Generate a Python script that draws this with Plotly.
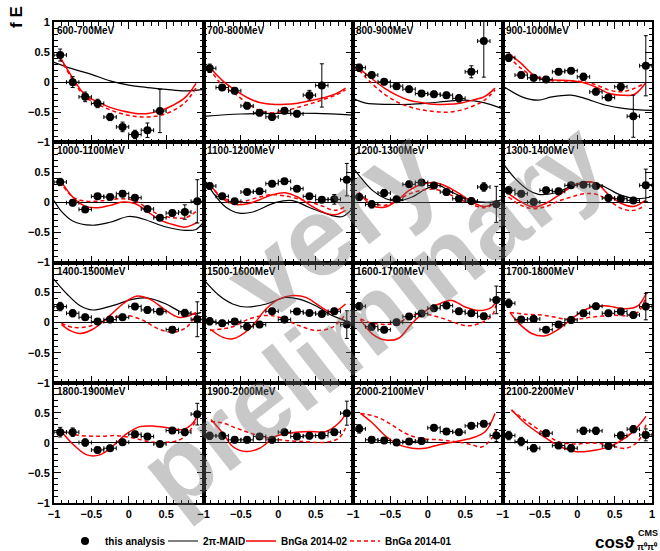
import plotly.graph_objects as go
from plotly.subplots import make_subplots

# ---------------- data ----------------
BINS = ["600-700MeV", "700-800MeV", "800-900MeV", "900-1000MeV",
        "1000-1100MeV", "1100-1200MeV", "1200-1300MeV", "1300-1400MeV",
        "1400-1500MeV", "1500-1600MeV", "1600-1700MeV", "1700-1800MeV",
        "1800-1900MeV", "1900-2000MeV", "2000-2100MeV", "2100-2200MeV"]
COS_X = [-0.917, -0.75, -0.583, -0.417, -0.25, -0.083, 0.083, 0.25, 0.417, 0.583, 0.75, 0.917]
HALF_BIN = 0.083

# measured points (this analysis) and their errors
E600_Y = [0.45, 0.0, -0.245, -0.355, -0.58, -0.745, -0.87, -0.80, -0.48]
E600_ERR = [0.10, 0.09, 0.08, 0.07, 0.06, 0.08, 0.07, 0.12, 0.36]
E700_Y = [0.23, -0.09, -0.145, -0.395, -0.51, -0.578, -0.478, -0.528, -0.217, -0.055]
E700_ERR = [0.07, 0.05, 0.05, 0.05, 0.05, 0.05, 0.05, 0.05, 0.08, 0.36]
E800_Y = [0.24, 0.117, 0.005, -0.067, -0.117, -0.19, -0.20, -0.217, -0.27, 0.172, 0.683]
E800_ERR = [0.06, 0.05, 0.05, 0.05, 0.05, 0.05, 0.05, 0.05, 0.06, 0.10, 0.60]
E900_Y = [0.405, 0.117, 0.072, 0.045, 0.172, 0.19, 0.088, -0.162, -0.255, -0.078, -0.567, 0.272]
E900_ERR = [0.06, 0.05, 0.05, 0.05, 0.05, 0.05, 0.06, 0.05, 0.05, 0.06, 0.35, 0.50]
E1000_Y = [0.339, -0.006, -0.117, 0.10, 0.089, 0.144, 0.078, -0.11, -0.255, -0.178, -0.161, 0.017]
E1000_ERR = [0.06, 0.05, 0.04, 0.04, 0.04, 0.05, 0.05, 0.04, 0.04, 0.05, 0.12, 0.36]
E1100_Y = [0.272, 0.10, 0.017, 0.172, 0.183, 0.311, 0.35, 0.228, 0.10, 0.045, 0.05, 0.378]
E1100_ERR = [0.05, 0.05, 0.04, 0.04, 0.04, 0.04, 0.04, 0.04, 0.04, 0.04, 0.08, 0.27]
E1200_Y = [0.089, -0.033, 0.156, 0.05, 0.30, 0.33, 0.28, 0.172, 0.061, 0.022, 0.256, -0.033]
E1200_ERR = [0.06, 0.06, 0.06, 0.05, 0.05, 0.05, 0.05, 0.05, 0.05, 0.05, 0.07, 0.30]
E1300_Y = [0.20, 0.144, 0.005, 0.20, 0.183, 0.283, 0.294, 0.272, 0.072, 0.061, 0.033, 0.283]
E1300_ERR = [0.06, 0.05, 0.05, 0.05, 0.05, 0.04, 0.04, 0.04, 0.05, 0.05, 0.05, 0.27]
E1400_Y = [0.267, 0.156, 0.089, 0.017, 0.05, 0.089, 0.267, 0.211, 0.183, -0.117, 0.161, 0.056]
E1400_ERR = [0.07, 0.06, 0.05, 0.05, 0.05, 0.05, 0.05, 0.05, 0.05, 0.05, 0.06, 0.29]
E1500_Y = [0.022, -0.011, 0.017, -0.067, -0.033, 0.189, 0.05, 0.183, 0.161, 0.144, 0.189, -0.033]
E1500_ERR = [0.06, 0.05, 0.05, 0.05, 0.05, 0.05, 0.05, 0.04, 0.04, 0.04, 0.05, 0.23]
E1600_Y = [0.272, -0.067, -0.117, 0.005, 0.10, 0.15, 0.24, 0.283, 0.189, 0.156, 0.106, 0.378]
E1600_ERR = [0.06, 0.06, 0.05, 0.05, 0.05, 0.05, 0.05, 0.05, 0.05, 0.05, 0.05, 0.23]
E1700_Y = [0.322, 0.05, 0.061, -0.117, -0.033, 0.045, 0.156, 0.272, 0.156, 0.183, 0.128, 0.267]
E1700_ERR = [0.07, 0.05, 0.05, 0.04, 0.05, 0.05, 0.05, 0.05, 0.05, 0.05, 0.05, 0.22]
E1800_Y = [0.178, 0.178, 0.006, -0.117, -0.089, 0.011, 0.144, 0.106, -0.017, 0.206, 0.178, 0.478]
E1800_ERR = [0.08, 0.07, 0.06, 0.05, 0.05, 0.05, 0.05, 0.05, 0.04, 0.05, 0.05, 0.18]
E1900_Y = [0.117, 0.117, 0.05, 0.05, 0.106, 0.05, 0.178, 0.106, 0.117, 0.122, 0.178, 0.494]
E1900_ERR = [0.06, 0.06, 0.05, 0.05, 0.05, 0.05, 0.05, 0.05, 0.05, 0.05, 0.05, 0.20]
E2000_Y = [0.233, 0.05, 0.039, 0.006, 0.022, 0.03, 0.25, 0.189, 0.178, 0.283, 0.317, 0.122]
E2000_ERR = [0.07, 0.05, 0.05, 0.05, 0.05, 0.05, 0.05, 0.05, 0.05, 0.05, 0.05, 0.10]
E2100_Y = [0.122, 0.022, -0.089, 0.161, -0.045, -0.089, 0.20, 0.20, -0.05, 0.122, 0.228, 0.133]
E2100_ERR = [0.07, 0.07, 0.06, 0.05, 0.05, 0.06, 0.06, 0.06, 0.05, 0.06, 0.06, 0.10]

# 2pi-MAID curves (available up to 1600 MeV)
MAID600_X = [-1, -0.75, -0.5, -0.25, 0, 0.25, 0.5, 0.75, 1]
MAID600_Y = [0.33, 0.22, 0.13, 0.02, -0.05, -0.09, -0.12, -0.145, -0.12]
MAID700_X = [-1, -0.5, 0, 0.5, 1]
MAID700_Y = [-0.57, -0.53, -0.52, -0.52, -0.55]
MAID800_X = [-1, -0.83, -0.5, -0.25, 0, 0.25, 0.5, 0.75, 1]
MAID800_Y = [-0.27, -0.35, -0.37, -0.37, -0.35, -0.32, -0.30, -0.34, -0.44]
MAID900_X = [-1, -0.74, -0.52, -0.34, -0.08, 0.1, 0.37, 0.64, 1]
MAID900_Y = [-0.06, -0.245, -0.30, -0.245, -0.217, -0.27, -0.38, -0.44, -0.47]
MAID1000_X = [-1, -0.9, -0.75, -0.5, -0.25, 0, 0.2, 0.5, 0.75, 0.9, 1]
MAID1000_Y = [0.03, -0.15, -0.31, -0.38, -0.33, -0.235, -0.28, -0.41, -0.465, -0.45, -0.33]
MAID1100_X = [-1, -0.83, -0.7, -0.52, -0.34, -0.03, 0.19, 0.41, 0.72, 0.86, 0.98]
MAID1100_Y = [0.40, 0.09, -0.08, -0.18, -0.16, 0.0, 0.03, -0.08, -0.22, -0.235, -0.12]
MAID1200_X = [-1, -0.88, -0.74, -0.56, -0.41, -0.21, 0.0, 0.15, 0.32, 0.59, 0.81, 0.98]
MAID1200_Y = [0.58, 0.39, 0.20, 0.06, 0.02, 0.09, 0.24, 0.28, 0.17, 0.03, 0.0, 0.04]
MAID1300_X = [-1, -0.83, -0.65, -0.52, -0.3, 0.01, 0.19, 0.37, 0.59, 0.81, 0.98]
MAID1300_Y = [0.66, 0.394, 0.20, 0.133, 0.156, 0.311, 0.339, 0.256, 0.117, 0.061, 0.089]
MAID1400_X = [-1, -0.83, -0.65, -0.48, -0.25, 0.06, 0.24, 0.5, 0.68, 0.86, 0.97]
MAID1400_Y = [0.72, 0.48, 0.28, 0.21, 0.27, 0.39, 0.41, 0.31, 0.19, 0.14, 0.17]
MAID1500_X = [-1, -0.79, -0.61, -0.43, -0.16, 0.1, 0.28, 0.5, 0.72, 0.9]
MAID1500_Y = [0.72, 0.45, 0.31, 0.26, 0.31, 0.42, 0.39, 0.28, 0.12, 0.03]

# BnGa 2014-02 (solid) curves
S600_X = [-0.92, -0.75, -0.58, -0.41, -0.25, -0.08, 0.09, 0.26, 0.43, 0.6, 0.76, 0.9]
S600_Y = [0.42, 0.07, -0.22, -0.33, -0.42, -0.48, -0.52, -0.52, -0.47, -0.38, -0.25, -0.02]
S700_X = [-0.92, -0.75, -0.58, -0.41, -0.25, -0.08, 0.09, 0.26, 0.43, 0.6, 0.76, 0.9]
S700_Y = [0.25, 0.03, -0.13, -0.26, -0.34, -0.37, -0.37, -0.35, -0.31, -0.26, -0.2, -0.1]
S800_X = [-0.92, -0.75, -0.58, -0.41, -0.25, -0.08, 0.09, 0.26, 0.43, 0.6, 0.76, 0.9]
S800_Y = [0.23, 0.06, -0.10, -0.22, -0.30, -0.34, -0.37, -0.37, -0.35, -0.30, -0.24, -0.10]
S900_X = [-0.92, -0.75, -0.58, -0.41, -0.25, -0.08, 0.09, 0.26, 0.43, 0.6, 0.76, 0.91]
S900_Y = [0.478, 0.311, 0.117, 0.044, 0.033, 0.022, -0.011, -0.089, -0.189, -0.217, -0.206, -0.022]
S1000_X = [-0.92, -0.75, -0.58, -0.41, -0.25, -0.08, 0.09, 0.26, 0.43, 0.6, 0.76, 0.92]
S1000_Y = [0.378, 0.089, -0.067, -0.089, -0.05, 0.006, -0.022, -0.161, -0.30, -0.372, -0.411, -0.328]
S1100_X = [-0.92, -0.75, -0.58, -0.41, -0.25, -0.08, 0.09, 0.26, 0.43, 0.6, 0.76, 0.9]
S1100_Y = [0.311, 0.061, -0.033, -0.022, 0.044, 0.128, 0.161, 0.089, -0.05, -0.161, -0.206, -0.133]
S1200_X = [-0.92, -0.75, -0.58, -0.41, -0.25, -0.08, 0.09, 0.26, 0.43, 0.6, 0.76, 0.92]
S1200_Y = [0.17, -0.05, -0.08, 0.03, 0.20, 0.30, 0.33, 0.26, 0.14, 0.0, -0.07, 0.0]
S1300_X = [-0.92, -0.75, -0.58, -0.41, -0.25, -0.08, 0.09, 0.26, 0.43, 0.6, 0.76, 0.91]
S1300_Y = [0.144, 0.006, -0.078, -0.011, 0.117, 0.256, 0.339, 0.311, 0.117, -0.022, -0.067, 0.033]
S1400_X = [-0.9, -0.79, -0.65, -0.48, -0.25, -0.08, 0.1, 0.28, 0.5, 0.66, 0.8, 0.9]
S1400_Y = [-0.03, -0.13, -0.18, -0.11, 0.12, 0.31, 0.44, 0.39, 0.20, 0.09, 0.11, 0.17]
S1500_X = [-0.91, -0.74, -0.61, -0.39, -0.16, 0.01, 0.19, 0.37, 0.55, 0.72, 0.9]
S1500_Y = [-0.11, -0.245, -0.27, -0.11, 0.23, 0.39, 0.45, 0.42, 0.28, 0.17, 0.31]
S1600_X = [-0.9, -0.74, -0.56, -0.39, -0.21, 0.0, 0.15, 0.32, 0.5, 0.68, 0.86, 0.92]
S1600_Y = [0.05, -0.19, -0.29, -0.26, -0.01, 0.22, 0.31, 0.37, 0.26, 0.20, 0.26, 0.38]
S1700_X = [-0.9, -0.79, -0.61, -0.43, -0.25, -0.08, 0.15, 0.37, 0.64, 0.81, 0.92]
S1700_Y = [0.17, 0.0, -0.18, -0.22, -0.11, 0.06, 0.24, 0.28, 0.23, 0.28, 0.48]
S1800_X = [-0.9, -0.74, -0.56, -0.39, -0.21, -0.03, 0.15, 0.32, 0.55, 0.72, 0.86, 0.92]
S1800_Y = [0.19, -0.03, -0.20, -0.20, -0.05, 0.15, 0.27, 0.28, 0.245, 0.22, 0.33, 0.47]
S1900_X = [-0.9, -0.74, -0.61, -0.43, -0.25, -0.03, 0.19, 0.41, 0.64, 0.81, 0.9]
S1900_Y = [0.39, 0.16, -0.06, -0.145, -0.09, 0.11, 0.17, 0.19, 0.19, 0.33, 0.48]
S2000_X = [-0.9, -0.74, -0.56, -0.39, -0.21, -0.03, 0.15, 0.37, 0.59, 0.77, 0.9]
S2000_Y = [0.49, 0.33, 0.11, -0.03, -0.09, -0.09, -0.03, 0.02, 0.08, 0.19, 0.49]
S2100_X = [-0.88, -0.7, -0.48, -0.25, -0.03, 0.19, 0.41, 0.64, 0.81, 0.92]
S2100_Y = [0.55, 0.33, 0.13, -0.05, -0.145, -0.13, -0.07, 0.08, 0.27, 0.44]

# BnGa 2014-01 (dashed) curves
D600_X = [-0.92, -0.75, -0.58, -0.41, -0.25, -0.08, 0.09, 0.26, 0.43, 0.6, 0.76, 0.9]
D600_Y = [0.40, 0.04, -0.25, -0.37, -0.46, -0.53, -0.57, -0.58, -0.55, -0.47, -0.33, -0.10]
D700_X = [-0.92, -0.75, -0.58, -0.41, -0.25, -0.08, 0.09, 0.26, 0.43, 0.6, 0.76, 0.9]
D700_Y = [0.23, -0.05, -0.19, -0.36, -0.47, -0.51, -0.48, -0.42, -0.36, -0.29, -0.22, -0.13]
D800_X = [-0.92, -0.75, -0.58, -0.41, -0.25, -0.08, 0.09, 0.26, 0.43, 0.6, 0.76, 0.9]
D800_Y = [0.20, -0.02, -0.20, -0.33, -0.41, -0.46, -0.49, -0.50, -0.47, -0.40, -0.30, -0.13]
D900_X = [-0.92, -0.75, -0.58, -0.41, -0.25, -0.08, 0.09, 0.26, 0.43, 0.6, 0.76, 0.91]
D900_Y = [0.422, 0.228, 0.089, 0.033, 0.022, 0.017, 0.006, -0.05, -0.133, -0.161, -0.106, -0.011]
D1000_X = [-0.92, -0.75, -0.58, -0.41, -0.25, -0.08, 0.09, 0.26, 0.43, 0.6, 0.76, 0.92]
D1000_Y = [0.356, 0.089, 0.022, 0.022, 0.044, 0.061, 0.022, -0.106, -0.217, -0.256, -0.256, -0.133]
D1100_X = [-0.92, -0.75, -0.58, -0.41, -0.25, -0.08, 0.09, 0.26, 0.43, 0.6, 0.76, 0.9]
D1100_Y = [0.283, 0.089, 0.006, 0.033, 0.089, 0.128, 0.106, 0.061, 0.006, -0.067, -0.133, -0.067]
D1200_X = [-0.92, -0.75, -0.58, -0.41, -0.25, -0.08, 0.09, 0.26, 0.43, 0.6, 0.76, 0.92]
D1200_Y = [0.15, 0.0, -0.05, 0.03, 0.14, 0.20, 0.22, 0.15, 0.05, -0.04, -0.09, 0.0]
D1300_X = [-0.92, -0.75, -0.58, -0.41, -0.25, -0.08, 0.09, 0.26, 0.43, 0.6, 0.76, 0.91]
D1300_Y = [0.089, -0.05, -0.106, -0.067, 0.022, 0.089, 0.144, 0.133, 0.022, -0.106, -0.133, -0.05]
D1400_X = [-0.9, -0.74, -0.56, -0.39, -0.08, 0.15, 0.41, 0.59, 0.77, 0.9]
D1400_Y = [-0.01, -0.08, -0.07, 0.0, 0.12, 0.06, -0.11, -0.16, -0.08, 0.14]
D1500_X = [-0.91, -0.74, -0.61, -0.39, -0.16, 0.01, 0.28, 0.5, 0.72, 0.9]
D1500_Y = [-0.13, -0.10, -0.07, 0.06, 0.12, 0.09, -0.05, -0.13, -0.08, 0.14]
D1600_X = [-0.9, -0.74, -0.56, -0.39, -0.21, -0.03, 0.15, 0.32, 0.5, 0.68, 0.86, 0.92]
D1600_Y = [0.06, -0.01, -0.03, 0.0, 0.12, 0.14, 0.09, 0.02, -0.05, -0.02, 0.12, 0.33]
D1700_X = [-0.9, -0.7, -0.43, -0.16, 0.01, 0.19, 0.46, 0.68, 0.81, 0.92]
D1700_Y = [0.17, 0.14, 0.12, 0.06, 0.06, 0.09, 0.12, 0.12, 0.17, 0.42]
D1800_X = [-0.9, -0.7, -0.39, -0.16, 0.06, 0.28, 0.5, 0.68, 0.81, 0.9]
D1800_Y = [0.19, 0.13, 0.11, 0.12, 0.08, 0.02, 0.01, 0.05, 0.19, 0.38]
D1900_X = [-0.9, -0.74, -0.56, -0.34, -0.12, 0.1, 0.37, 0.64, 0.81, 0.9]
D1900_Y = [0.355, 0.33, 0.245, 0.15, 0.08, 0.04, 0.02, 0.01, 0.08, 0.245]
D2000_X = [-0.9, -0.7, -0.52, -0.3, -0.12, 0.15, 0.37, 0.59, 0.72, 0.86, 0.92]
D2000_Y = [0.49, 0.44, 0.33, 0.16, 0.08, 0.05, 0.02, -0.03, -0.07, 0.08, 0.25]
D2100_X = [-0.88, -0.7, -0.48, -0.25, -0.03, 0.19, 0.41, 0.64, 0.81, 0.92]
D2100_Y = [0.54, 0.38, 0.19, 0.02, -0.02, 0.0, -0.03, -0.09, 0.02, 0.30]

POINTS = [(E600_Y, E600_ERR), (E700_Y, E700_ERR), (E800_Y, E800_ERR), (E900_Y, E900_ERR),
          (E1000_Y, E1000_ERR), (E1100_Y, E1100_ERR), (E1200_Y, E1200_ERR), (E1300_Y, E1300_ERR),
          (E1400_Y, E1400_ERR), (E1500_Y, E1500_ERR), (E1600_Y, E1600_ERR), (E1700_Y, E1700_ERR),
          (E1800_Y, E1800_ERR), (E1900_Y, E1900_ERR), (E2000_Y, E2000_ERR), (E2100_Y, E2100_ERR)]
MAID = [(MAID600_X, MAID600_Y), (MAID700_X, MAID700_Y), (MAID800_X, MAID800_Y), (MAID900_X, MAID900_Y),
        (MAID1000_X, MAID1000_Y), (MAID1100_X, MAID1100_Y), (MAID1200_X, MAID1200_Y), (MAID1300_X, MAID1300_Y),
        (MAID1400_X, MAID1400_Y), (MAID1500_X, MAID1500_Y)]
SOLID = [(S600_X, S600_Y), (S700_X, S700_Y), (S800_X, S800_Y), (S900_X, S900_Y),
         (S1000_X, S1000_Y), (S1100_X, S1100_Y), (S1200_X, S1200_Y), (S1300_X, S1300_Y),
         (S1400_X, S1400_Y), (S1500_X, S1500_Y), (S1600_X, S1600_Y), (S1700_X, S1700_Y),
         (S1800_X, S1800_Y), (S1900_X, S1900_Y), (S2000_X, S2000_Y), (S2100_X, S2100_Y)]
DASHED = [(D600_X, D600_Y), (D700_X, D700_Y), (D800_X, D800_Y), (D900_X, D900_Y),
          (D1000_X, D1000_Y), (D1100_X, D1100_Y), (D1200_X, D1200_Y), (D1300_X, D1300_Y),
          (D1400_X, D1400_Y), (D1500_X, D1500_Y), (D1600_X, D1600_Y), (D1700_X, D1700_Y),
          (D1800_X, D1800_Y), (D1900_X, D1900_Y), (D2000_X, D2000_Y), (D2100_X, D2100_Y)]

# ---------------- figure ----------------
FONT = "Liberation Sans, Arial, Helvetica, sans-serif"
RED = "#ff0000"
W, H = 660, 551
L, R, T, B = 54, 8, 22, 48

fig = make_subplots(rows=4, cols=4, horizontal_spacing=0, vertical_spacing=0)

for i in range(16):
    r, c = i // 4 + 1, i % 4 + 1
    ys, errs = POINTS[i]
    if i < len(MAID):
        mx, my = MAID[i]
        fig.add_trace(go.Scatter(x=mx, y=my, mode="lines", line=dict(color="black", width=1.2, shape="spline"),
                                 name="2\u03c0-MAID", legendgroup="maid", showlegend=(i == 0),
                                 legendrank=2, legendwidth=33), row=r, col=c)
    sx, sy = SOLID[i]
    fig.add_trace(go.Scatter(x=sx, y=sy, mode="lines", line=dict(color=RED, width=1.5, shape="spline"),
                             name="BnGa 2014-02", legendgroup="s", showlegend=(i == 0),
                             legendrank=3, legendwidth=59), row=r, col=c)
    dx, dy = DASHED[i]
    fig.add_trace(go.Scatter(x=dx, y=dy, mode="lines",
                             line=dict(color=RED, width=1.5, shape="spline", dash="4px,3px"),
                             name="BnGa 2014-01", legendgroup="d", showlegend=(i == 0),
                             legendrank=4), row=r, col=c)
    fig.add_trace(go.Scatter(x=COS_X[:len(ys)], y=ys, mode="markers",
                             marker=dict(color="black", size=8),
                             error_y=dict(type="data", array=errs, color="black", thickness=1, width=2),
                             error_x=dict(type="constant", value=HALF_BIN, color="black", thickness=1, width=2),
                             name="this analysis", legendgroup="pts", showlegend=(i == 0),
                             legendrank=1, legendwidth=53), row=r, col=c)

MINOR = [round(-1 + 0.1 * k, 1) for k in range(1, 20) if k % 5 != 0]
for i in range(16):
    r, c = i // 4, i % 4
    s = "" if i == 0 else str(i + 1)
    xt = [-1, -0.5, 0, 0.5, 1] if c == 3 else [-1, -0.5, 0, 0.5]
    yt = [-1, -0.5, 0, 0.5, 1] if r == 0 else [-1, -0.5, 0, 0.5]
    common = dict(range=[-1, 1], showline=True, linecolor="black", linewidth=2, mirror="allticks",
                  ticks="inside", ticklen=7, tickwidth=1, tickcolor="black", showgrid=False,
                  tickfont=dict(family=FONT, size=11, color="black", weight="bold"),
                  minor=dict(ticks="inside", ticklen=3.5, tickwidth=1, tickcolor="black",
                             tickvals=MINOR, showgrid=False))
    fig.layout["xaxis" + s].update(common)
    fig.layout["xaxis" + s].update(tickmode="array", tickvals=xt, zeroline=False,
                                   showticklabels=(r == 3), ticklabelstandoff=0)
    fig.layout["yaxis" + s].update(common)
    fig.layout["yaxis" + s].update(tickmode="array", tickvals=yt, zeroline=True, zerolinecolor="black",
                                   zerolinewidth=1, showticklabels=(c == 0))
    fig.add_annotation(text=BINS[i], xref=f"x{s} domain", yref=f"y{s} domain", x=0.0, y=1.0,
                       xanchor="left", yanchor="top", xshift=1, yshift=-1, showarrow=False,
                       font=dict(family=FONT, size=10, color="black", weight="bold"))


def px(xp):
    return (xp - L) / (W - L - R)


def py(yp):
    return (H - B - yp) / (H - T - B)


# watermark
WM_COLOR = "rgba(110,110,110,0.38)"
fig.add_annotation(text="very", xref="paper", yref="paper", x=px(332), y=py(225),
                   xanchor="center", yanchor="middle", showarrow=False, textangle=-38,
                   font=dict(family=FONT, size=112, color=WM_COLOR, weight="bold"))
fig.add_annotation(text="preliminary", xref="paper", yref="paper", x=px(372), y=py(316),
                   xanchor="center", yanchor="middle", showarrow=False, textangle=-38,
                   font=dict(family=FONT, size=103, color=WM_COLOR, weight="bold"))

# axis titles
fig.add_annotation(text="f E", xref="paper", yref="paper", x=px(16), y=py(17),
                   xanchor="center", yanchor="middle",
                   showarrow=False, textangle=-90, font=dict(family=FONT, size=17, color="black", weight="bold"))
fig.add_annotation(text="cos\u03d1", xref="paper", yref="paper", x=px(636), y=py(542),
                   xanchor="right", yanchor="middle", showarrow=False,
                   font=dict(family=FONT, size=17, color="black", weight="bold"))
fig.add_annotation(text="CMS", xref="paper", yref="paper", x=px(636), y=py(533),
                   xanchor="left", yanchor="middle", showarrow=False,
                   font=dict(family=FONT, size=9, color="black", weight="bold"))
fig.add_annotation(text="\u03c0\u2070\u03c0\u2070", xref="paper", yref="paper", x=px(635), y=py(547),
                   xanchor="left", yanchor="middle", showarrow=False,
                   font=dict(family=FONT, size=9, color="black", weight="bold"))

fig.update_layout(
    width=W, height=H,
    margin=dict(l=L, r=R, t=T, b=B, autoexpand=False),
    paper_bgcolor="white", plot_bgcolor="white",
    showlegend=True,
    legend=dict(orientation="h", xref="container", yref="container",
                x=65 / W, xanchor="left", y=(H - 541) / H, yanchor="middle",
                font=dict(family=FONT, size=10, color="black", weight="bold"),
                bgcolor="rgba(0,0,0,0)", traceorder="normal", itemwidth=30, tracegroupgap=0),
)

fig.write_html("out.html")
